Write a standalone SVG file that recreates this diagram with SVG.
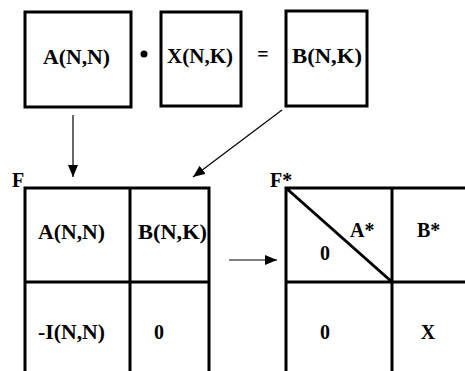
<svg xmlns="http://www.w3.org/2000/svg" width="465" height="371" viewBox="0 0 465 371">
<defs>
<marker id="ah" viewBox="0 0 12 10" refX="12" refY="5" markerWidth="12" markerHeight="10" markerUnits="userSpaceOnUse" orient="auto">
<path d="M0,0 L12,5 L0,10 Z" fill="#000"/>
</marker>
</defs>
<style>
.box{fill:#fff;stroke:#000;stroke-width:3}
.ln{stroke:#000;stroke-width:3;fill:none}
.t{font-family:"Liberation Serif","Times New Roman",serif;font-weight:bold;font-size:20px;fill:#000}
.c{stroke:#000;stroke-width:1.2;fill:none}
</style>
<rect width="465" height="371" fill="#fff"/>
<g id="boxA">
<rect class="box" x="25" y="12" width="106" height="95"/>
<text class="t" x="43" y="64" textLength="67" lengthAdjust="spacingAndGlyphs">A(N,N)</text>
</g>
<g id="dot"><circle cx="144" cy="54" r="3.5" fill="#000"/></g>
<g id="boxX">
<rect class="box" x="161" y="12" width="80" height="94"/>
<text class="t" x="167" y="63" textLength="66" lengthAdjust="spacingAndGlyphs">X(N,K)</text>
</g>
<g id="eq"><text class="t" x="263" y="61" text-anchor="middle">=</text></g>
<g id="boxB">
<rect class="box" x="286" y="11" width="81" height="95"/>
<text class="t" x="292" y="63" textLength="70" lengthAdjust="spacingAndGlyphs">B(N,K)</text>
</g>
<g id="F">
<text class="t" x="12" y="187">F</text>
<path class="ln" d="M25,371 V188 H209 V371 M130,188 V371 M25,282 H209"/>
<text class="t" x="38" y="239" textLength="67" lengthAdjust="spacingAndGlyphs">A(N,N)</text>
<text class="t" x="138" y="239" textLength="69" lengthAdjust="spacingAndGlyphs">B(N,K)</text>
<text class="t" x="38" y="339" textLength="67" lengthAdjust="spacingAndGlyphs">-I(N,N)</text>
<text class="t" x="159" y="339" text-anchor="middle">0</text>
</g>
<g id="Fstar">
<text class="t" x="270" y="187">F*</text>
<path class="ln" d="M286,371 V188 H467 M392,188 V371 M286,282 H467 M286,188 L392,282"/>
<text class="t" x="350" y="237">A*</text>
<text class="t" x="325" y="260" text-anchor="middle">0</text>
<text class="t" x="417" y="237">B*</text>
<text class="t" x="325" y="339" text-anchor="middle">0</text>
<text class="t" x="428" y="339" text-anchor="middle">X</text>
</g>
<g id="connectors">
<line class="c" x1="73" y1="115" x2="73" y2="177" marker-end="url(#ah)"/>
<line class="c" x1="282" y1="110" x2="193" y2="177" marker-end="url(#ah)"/>
<line class="c" x1="229" y1="260" x2="277" y2="260" marker-end="url(#ah)"/>
</g>
</svg>
